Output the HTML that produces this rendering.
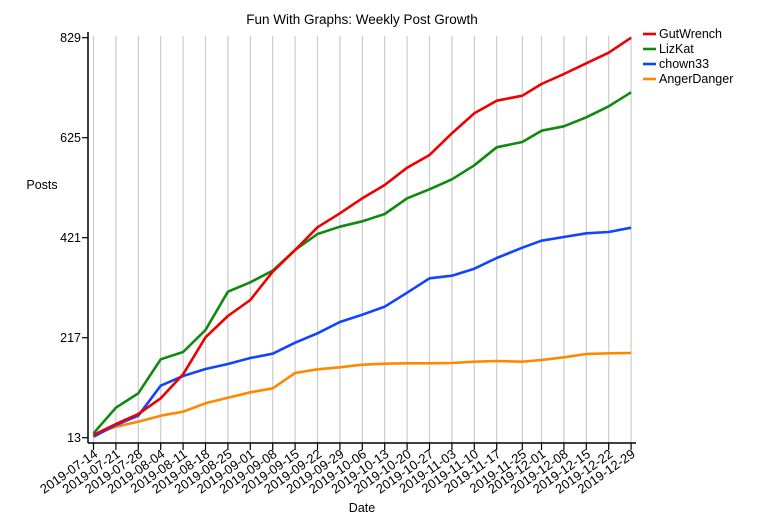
<!DOCTYPE html>
<html><head><meta charset="utf-8"><style>
html,body{margin:0;padding:0;background:#fff;}
svg{display:block;font-family:"Liberation Sans",Arial,sans-serif;}
</style></head><body>
<svg width="775" height="525" viewBox="0 0 775 525" xmlns="http://www.w3.org/2000/svg">
<text x="362" y="24" font-size="13.5" text-anchor="middle" fill="#000">Fun With Graphs: Weekly Post Growth</text>
<g id="grid" stroke="#cccccc" stroke-width="1.2"></g>
<g id="series" fill="none" stroke-width="2.6" stroke-linejoin="round"></g>
<line x1="88" y1="32" x2="88" y2="443" stroke="#000" stroke-width="1.5"/>
<line x1="88" y1="443" x2="636" y2="443" stroke="#000" stroke-width="1.5"/>
<g id="yt" font-size="12.5" text-anchor="end"></g>
<g id="xt" font-size="13" text-anchor="end"></g>
<text x="42" y="189" font-size="12.5" text-anchor="middle">Posts</text>
<text x="362" y="512" font-size="12.5" text-anchor="middle">Date</text>
<g font-size="12.5">
<line x1="643" y1="34" x2="656" y2="34" stroke="#ee0000" stroke-width="2.6"/><text x="659" y="38">GutWrench</text>
<line x1="643" y1="49" x2="656" y2="49" stroke="#118811" stroke-width="2.6"/><text x="659" y="53">LizKat</text>
<line x1="643" y1="64" x2="656" y2="64" stroke="#1144ff" stroke-width="2.6"/><text x="659" y="68">chown33</text>
<line x1="643" y1="79" x2="656" y2="79" stroke="#ff8800" stroke-width="2.6"/><text x="659" y="83">AngerDanger</text>
</g>
<script>
var NS="http://www.w3.org/2000/svg";
var dates=["2019-07-14","2019-07-21","2019-07-28","2019-08-04","2019-08-11","2019-08-18","2019-08-25","2019-09-01","2019-09-08","2019-09-15","2019-09-22","2019-09-29","2019-10-06","2019-10-13","2019-10-20","2019-10-27","2019-11-03","2019-11-10","2019-11-17","2019-11-25","2019-12-01","2019-12-08","2019-12-15","2019-12-22","2019-12-29"];
var days=[];for(var i=0;i<19;i++)days.push(i*7);days.push(134,140,147,154,161,168);
var xs=days.map(function(d){return 93.5+3.2*d;});
function el(t,a,p,txt){var e=document.createElementNS(NS,t);for(var k in a)e.setAttribute(k,a[k]);if(txt)e.textContent=txt;document.getElementById(p).appendChild(e);}
xs.forEach(function(x,i){
 el("line",{x1:x,y1:36,x2:x,y2:443},"grid");
 var t=document.createElementNS(NS,"line");t.setAttribute("x1",x);t.setAttribute("x2",x);t.setAttribute("y1",443);t.setAttribute("y2",450);t.setAttribute("stroke","#000");t.setAttribute("stroke-width","1.2");document.querySelector("svg").appendChild(t);
 el("text",{transform:"translate("+(x+5)+",456) rotate(-35)"},"xt",dates[i]);
});
var yv=[13,217,421,625,829];
yv.forEach(function(v,i){var y=437.7-i*100;
 var t=document.createElementNS(NS,"line");t.setAttribute("x1",82);t.setAttribute("x2",88);t.setAttribute("y1",y);t.setAttribute("y2",y);t.setAttribute("stroke","#000");t.setAttribute("stroke-width","1.2");document.querySelector("svg").appendChild(t);
 el("text",{x:81,y:y+4.5},"yt",String(v));});
var S=[
["#ff8800",[434.3,426.7,421.7,415.7,411.7,403.3,397.7,392.3,388.3,373,369.3,367.3,364.7,363.7,363.3,363.3,363,361.7,361,361.7,360,357.3,354,353.3,353]],
["#1144ff",[436.7,425,415.7,385.7,376,369,364,358,353.7,342.7,333.3,322,314.7,306.7,292.7,278.3,275.7,268.7,258,247.7,240.7,237,233.3,232,227.7]],
["#118811",[433.3,407.7,393.3,359.3,352,330,291.7,282.3,270.7,250,234,226.7,221.3,214,198.3,189.3,179.3,165.3,147.3,142,130.7,126.3,117.3,106.3,92.3]],
["#ee0000",[435,424,414,398.3,374.3,337.3,316,300,271.7,250,227.3,213.3,198.3,185,167.7,155,133.3,113.3,100.7,95.7,84,74,63.3,52.7,37.7]]];
S.forEach(function(s){el("polyline",{stroke:s[0],points:s[1].map(function(y,i){return xs[i]+","+y;}).join(" ")},"series");});
</script>
</svg>
</body></html>
